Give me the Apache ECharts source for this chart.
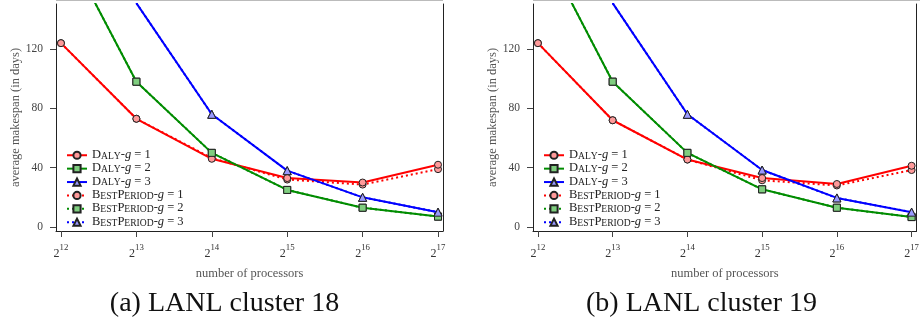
<!DOCTYPE html>
<html><head><meta charset="utf-8">
<script src="https://cdn.jsdelivr.net/npm/echarts@6/dist/echarts.min.js"></script>
<style>html,body{margin:0;padding:0;background:#fff}#c{width:922px;height:322px}</style>
</head><body><div id="c"></div>
<script>
// exponents of 2 for the number of processors
const exponents = [12, 13, 14, 15, 16, 17];
const yTicks = [0, 40, 80, 120];
const seriesNames = ['Daly-g = 1', 'Daly-g = 2', 'Daly-g = 3', 'BestPeriod-g = 1', 'BestPeriod-g = 2', 'BestPeriod-g = 3'];
const captions = ['(a) LANL cluster 18', '(b) LANL cluster 19'];

// (a) LANL cluster 18
const a_daly1 = [124, 73, 46, 33, 30, 42];
const a_daly2 = [195, 98, 50, 25, 13, 7];
const a_daly3 = [null, 151, 76, 38, 20, 10];
const a_best1 = [124, 73, 46.5, 32, 28.6, 39];
const a_best2 = [195, 98, 50, 25, 13, 7];
const a_best3 = [null, 151, 76, 38, 20, 10];
// (b) LANL cluster 19
const b_daly1 = [124, 72, 45.5, 33, 29, 41.3];
const b_daly2 = [195, 98, 50, 25.4, 13, 6.7];
const b_daly3 = [null, 151, 76, 38.4, 19.6, 10];
const b_best1 = [124, 72, 45.5, 31.5, 28, 38.4];
const b_best2 = [195, 98, 50, 25.4, 13, 6.7];
const b_best3 = [null, 151, 76, 38.4, 19.6, 10];

const panels = [
  [a_daly1, a_daly2, a_daly3, a_best1, a_best2, a_best3],
  [b_daly1, b_daly2, b_daly3, b_best1, b_best2, b_best3]
];

const lineColors = ['#ff0000', '#008c00', '#0000ff'];
const fillColors = ['#ff9a9a', '#7fce7f', '#9a9aff'];
const symbols = ['circle', 'rect', 'triangle'];
const SERIF = '"Liberation Serif", "DejaVu Serif", serif';

const gridLefts = [56, 533];
const gridW = 387;

function scName(name) {
  const m = name.match(/^(\w+)-g = (\d)$/);
  const word = m[1];
  let out = '';
  for (const ch of word) {
    if (ch === ch.toUpperCase()) out += '{c|' + ch + '}';
    else out += '{s|' + ch.toUpperCase() + '}';
  }
  return out + '{n|-}{i|g}{n| = ' + m[2] + '}';
}
const smallCapsRich = {
  c: {fontSize: 12.5, fontFamily: SERIF, color: '#222', lineHeight: 11.5, verticalAlign: 'bottom'},
  s: {fontSize: 9.6, fontFamily: SERIF, color: '#222', lineHeight: 9.7, verticalAlign: 'bottom'},
  n: {fontSize: 12.5, fontFamily: SERIF, color: '#222', lineHeight: 11.5, verticalAlign: 'bottom'},
  i: {fontSize: 12.5, fontFamily: SERIF, color: '#222', fontStyle: 'italic', lineHeight: 11.5, verticalAlign: 'bottom'}
};

const grids = [], xAxes = [], yAxes = [], series = [], legends = [], titles = [], graphics = [];
panels.forEach((vals, p) => {
  grids.push({left: gridLefts[p], top: 4, width: gridW, height: 227, show: false});
  xAxes.push({
    type: 'value', gridIndex: p, min: 11.934, max: 17.066,
    name: 'number of processors', nameLocation: 'middle', nameGap: 36,
    nameTextStyle: {fontFamily: SERIF, fontSize: 12.5, color: '#555'},
    axisLine: {show: true, onZero: false, lineStyle: {color: '#222', width: 1}},
    axisTick: {show: true, length: 6, lineStyle: {color: '#444'}, customValues: exponents},
    splitLine: {show: false},
    axisLabel: {
      margin: 12, customValues: exponents,
      formatter: v => '{b|2}{s|' + v + '}',
      rich: {
        b: {fontFamily: SERIF, fontSize: 12, color: '#333', lineHeight: 17, verticalAlign: 'bottom'},
        s: {fontFamily: SERIF, fontSize: 8.8, color: '#333', lineHeight: 9, verticalAlign: 'top'}
      }
    }
  });
  yAxes.push({
    type: 'value', gridIndex: p, min: -2.7, max: 150.4,
    name: 'average makespan (in days)', nameLocation: 'middle', nameGap: 33,
    nameTextStyle: {fontFamily: SERIF, fontSize: 12.5, color: '#555'},
    axisLine: {show: true, onZero: false, lineStyle: {color: '#222', width: 1}},
    axisTick: {show: true, length: 6, lineStyle: {color: '#444'}, customValues: yTicks},
    splitLine: {show: false},
    axisLabel: {margin: 13, customValues: yTicks, fontFamily: SERIF, fontSize: 11.5, color: '#444'}
  });
  yAxes.push({
    type: 'value', gridIndex: p, min: -2.7, max: 150.4, position: 'right',
    axisLine: {show: true, onZero: false, lineStyle: {color: '#222', width: 1}},
    axisTick: {show: false}, axisLabel: {show: false}, splitLine: {show: false}
  });
  vals.forEach((arr, k) => {
    const g = k % 3;
    series.push({
      name: seriesNames[k], type: 'line', xAxisIndex: p, yAxisIndex: 2 * p,
      data: exponents.map((e, i) => [e, arr[i]]),
      symbol: symbols[g], symbolSize: g === 2 ? 8 : 7,
      showAllSymbol: true, clip: true, silent: true,
      lineStyle: {color: lineColors[g], width: 2, type: k < 3 ? 'solid' : [2, 3]},
      itemStyle: {color: fillColors[g], borderColor: '#222', borderWidth: 1},
      animation: false, z: k < 3 ? 3 : 2
    });
  });
  legends.push({
    data: seriesNames, orient: 'vertical', left: gridLefts[p] + 10, top: 148,
    itemWidth: 20, itemHeight: 9, itemGap: 0.4, padding: 0,
    selectedMode: false,
    formatter: scName,
    textStyle: {fontFamily: SERIF, fontSize: 12.5, color: '#222', rich: smallCapsRich}
  });
  titles.push({
    text: captions[p], left: gridLefts[p] + gridW / 2 - 30, top: 285, textAlign: 'center',
    textStyle: {fontFamily: SERIF, fontSize: 28, fontWeight: 'normal', color: '#111'}
  });
  graphics.push({type: 'line', shape: {x1: gridLefts[p], y1: 0.5, x2: gridLefts[p] + gridW, y2: 0.5},
    style: {stroke: '#bbb', lineWidth: 1}, silent: true});
});

const chart = echarts.init(document.getElementById('c'), null, {renderer: 'canvas'});
chart.setOption({
  animation: false,
  backgroundColor: '#fff',
  title: titles,
  grid: grids, xAxis: xAxes, yAxis: yAxes,
  legend: legends, series: series, graphic: graphics
});
</script></body></html>
